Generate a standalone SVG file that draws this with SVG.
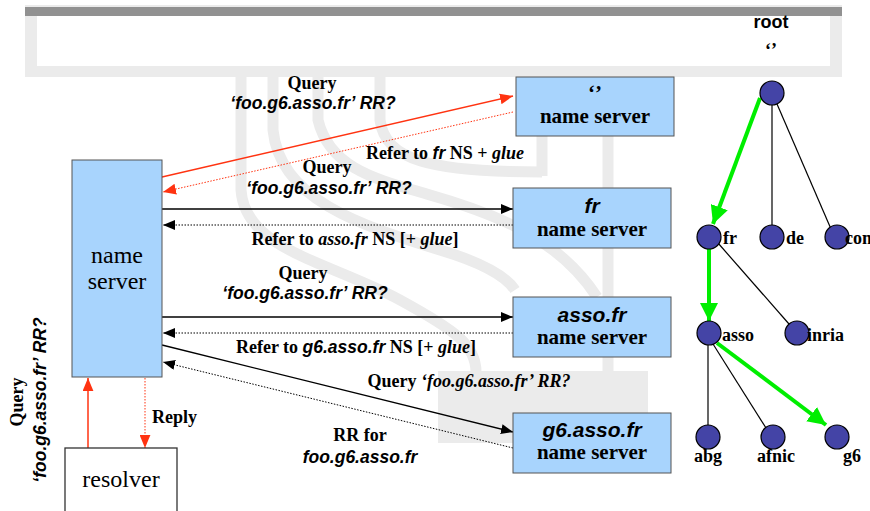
<svg xmlns="http://www.w3.org/2000/svg" width="870" height="511" viewBox="0 0 870 511">
<style>
.wm{fill:none;stroke:#ebebeb;stroke-width:11}
.box{fill:#a8d4fd;stroke:#555;stroke-width:1}
.sb{font-family:"Liberation Serif",serif;font-weight:bold}
.sbi{font-family:"Liberation Serif",serif;font-weight:bold;font-style:italic}
.ab{font-family:"Liberation Sans",sans-serif;font-weight:bold}
.abi{font-family:"Liberation Sans",sans-serif;font-weight:bold;font-style:italic}
.sr{font-family:"Liberation Serif",serif}
.solid{stroke:#000;stroke-width:1.3;fill:none}
.dot{stroke:#000;stroke-width:1;stroke-dasharray:1.5 1.5;fill:none}
.rsolid{stroke:#ff3311;stroke-width:1.5;fill:none}
.rdot{stroke:#ff3311;stroke-width:1;stroke-dasharray:1.5 1.5;fill:none}
.tn{fill:#4444a6;stroke:#000;stroke-width:1.2}
.te{stroke:#000;stroke-width:1.2}
.ge{stroke:#00ee00;stroke-width:4;fill:none}
</style>
<defs>
<marker id="ab" viewBox="0 0 12 10" refX="12" refY="5" markerWidth="12" markerHeight="10" markerUnits="userSpaceOnUse" orient="auto"><path d="M0,0L12,5L0,10z" fill="#000"/></marker>
<marker id="ar" viewBox="0 0 12 10" refX="12" refY="5" markerWidth="13" markerHeight="11" markerUnits="userSpaceOnUse" orient="auto"><path d="M0,0L12,5L0,10z" fill="#ff3311"/></marker>
<marker id="ag" viewBox="0 0 12 12" refX="12" refY="6" markerWidth="18" markerHeight="18" markerUnits="userSpaceOnUse" orient="auto"><path d="M0,0L12,6L0,12z" fill="#00ee00"/></marker>
</defs>
<rect width="870" height="511" fill="#fff"/>
<g id="watermark">
<rect x="25" y="5" width="817" height="72" fill="#ebebeb"/>
<rect x="25" y="7" width="817" height="9" fill="#919191"/>
<rect x="37" y="16" width="793" height="50" fill="#fff"/>
<path class="wm" d="M241,77 L241,190 C245,250 330,262 400,300 C455,330 476,345 476,372"/>
<path class="wm" d="M273,77 L273,130 C280,200 360,225 440,250 C480,262 505,275 515,290"/>
<path class="wm" d="M318,77 L318,120 C330,170 380,180 430,195 C500,215 560,240 597,297"/>
<path class="wm" d="M380,77 L380,120 C385,160 430,172 542,172"/>
<path class="wm" d="M542,130 L542,176"/>
<path class="wm" d="M608,130 L608,372"/>
<rect x="438" y="371" width="210" height="72" fill="#ebebeb"/>
</g>
<g id="connectors">
<line class="rsolid" x1="162" y1="177" x2="513" y2="96" marker-end="url(#ar)"/>
<line class="rdot" x1="513" y1="112" x2="163" y2="192" marker-end="url(#ar)"/>
<line class="solid" x1="162" y1="209" x2="513" y2="209" marker-end="url(#ab)"/>
<line class="dot" x1="513" y1="225" x2="163" y2="225" marker-end="url(#ab)"/>
<line class="solid" x1="162" y1="317" x2="513" y2="317" marker-end="url(#ab)"/>
<line class="dot" x1="513" y1="333" x2="163" y2="333" marker-end="url(#ab)"/>
<line class="solid" x1="162" y1="345" x2="513" y2="432" marker-end="url(#ab)"/>
<line class="dot" x1="513" y1="448" x2="163" y2="362" marker-end="url(#ab)"/>
<line class="rsolid" x1="88" y1="448" x2="88" y2="378" marker-end="url(#ar)"/>
<line class="rdot" x1="145" y1="378" x2="145" y2="448" marker-end="url(#ar)"/>
<line class="ge" x1="760" y1="98" x2="713" y2="224" marker-end="url(#ag)"/>
<line class="te" x1="772" y1="105" x2="772" y2="225"/>
<line class="te" x1="777" y1="104" x2="831" y2="229"/>
<line class="ge" x1="709" y1="249" x2="709" y2="321" marker-end="url(#ag)"/>
<line class="te" x1="718" y1="243" x2="789" y2="324"/>
<line class="te" x1="708" y1="345" x2="708" y2="425"/>
<line class="te" x1="713" y1="344" x2="766" y2="428"/>
<line class="ge" x1="717" y1="343" x2="826" y2="425" marker-end="url(#ag)"/>
</g>
<g id="labels">
<text class="sb" font-size="18" x="312" y="89" text-anchor="middle">Query</text>
<text class="abi" font-size="17.5" x="313" y="109" text-anchor="middle">‘foo.g6.asso.fr’ RR?</text>
<text class="sb" font-size="18" x="445" y="159" text-anchor="middle">Refer to <tspan class="abi" font-size="17.5">fr</tspan> NS + <tspan class="sbi">glue</tspan></text>
<text class="sb" font-size="18" x="327" y="173" text-anchor="middle">Query</text>
<text class="abi" font-size="17.5" x="329" y="194" text-anchor="middle">‘foo.g6.asso.fr’ RR?</text>
<text class="sb" font-size="18" x="355" y="245" text-anchor="middle">Refer to <tspan class="sbi">asso.fr</tspan> NS [+ <tspan class="sbi">glue</tspan>]</text>
<text class="sb" font-size="18" x="303" y="279" text-anchor="middle">Query</text>
<text class="abi" font-size="17.5" x="305" y="299" text-anchor="middle">‘foo.g6.asso.fr’ RR?</text>
<text class="sb" font-size="18" x="356" y="353" text-anchor="middle">Refer to <tspan class="abi" font-size="17.5">g6.asso.fr</tspan> NS [+ <tspan class="sbi">glue</tspan>]</text>
<text class="sb" font-size="18" x="469" y="387" text-anchor="middle">Query <tspan class="sbi">‘foo.g6.asso.fr’ RR?</tspan></text>
<text class="sb" font-size="18" x="360" y="441" text-anchor="middle">RR for</text>
<text class="abi" font-size="17.5" x="360" y="463" text-anchor="middle">foo.g6.asso.fr</text>
<text class="sb" font-size="18" x="152" y="423">Reply</text>
<text class="sb" font-size="18" x="23" y="402" text-anchor="middle" transform="rotate(-90 23 402)">Query</text>
<text class="abi" font-size="17.5" x="46" y="400" text-anchor="middle" transform="rotate(-90 46 400)">‘foo.g6.asso.fr’ RR?</text>
</g>
<g id="ns-local">
<rect class="box" x="72" y="160" width="90" height="217"/>
<text class="sr" font-size="24" x="117" y="263" text-anchor="middle">name</text>
<text class="sr" font-size="24" x="117" y="289" text-anchor="middle">server</text>
</g>
<g id="resolver">
<rect x="65" y="448" width="112" height="70" fill="#fff" stroke="#333" stroke-width="1.3"/>
<text class="sr" font-size="24" x="121" y="487" text-anchor="middle">resolver</text>
</g>
<g id="ns-root">
<rect class="box" x="516" y="77" width="158" height="59"/>
<text class="sb" font-size="21" x="595" y="100" text-anchor="middle">‘’</text>
<text class="sb" font-size="21" x="595" y="123" text-anchor="middle">name server</text>
</g>
<g id="ns-fr">
<rect class="box" x="513" y="188" width="158" height="60"/>
<text class="abi" font-size="21" x="592" y="213" text-anchor="middle">fr</text>
<text class="sb" font-size="21" x="592" y="236" text-anchor="middle">name server</text>
</g>
<g id="ns-asso">
<rect class="box" x="513" y="297" width="158" height="60"/>
<text class="abi" font-size="21" x="592" y="322" text-anchor="middle">asso.fr</text>
<text class="sb" font-size="21" x="592" y="344" text-anchor="middle">name server</text>
</g>
<g id="ns-g6">
<rect class="box" x="513" y="413" width="158" height="60"/>
<text class="abi" font-size="21" x="592" y="437" text-anchor="middle">g6.asso.fr</text>
<text class="sb" font-size="21" x="592" y="459" text-anchor="middle">name server</text>
</g>
<g id="tree-root">
<text class="ab" font-size="18" x="771" y="28" text-anchor="middle">root</text>
<text class="sb" font-size="18" x="771" y="56" text-anchor="middle">‘’</text>
<circle class="tn" cx="772" cy="93" r="12"/>
</g>
<g id="tree-fr"><circle class="tn" cx="709" cy="237" r="12"/><text class="sb" font-size="18" x="723" y="244">fr</text></g>
<g id="tree-de"><circle class="tn" cx="772" cy="237" r="12"/><text class="sb" font-size="18" x="786" y="244">de</text></g>
<g id="tree-com"><circle class="tn" cx="837" cy="237" r="12"/><text class="sb" font-size="18" x="845" y="244">com</text></g>
<g id="tree-asso"><circle class="tn" cx="709" cy="333" r="12"/><text class="sb" font-size="18" x="722" y="341">asso</text></g>
<g id="tree-inria"><circle class="tn" cx="797" cy="333" r="12"/><text class="sb" font-size="18" x="807" y="341">inria</text></g>
<g id="tree-abg"><circle class="tn" cx="708" cy="437" r="12"/><text class="sb" font-size="18" x="708" y="462" text-anchor="middle">abg</text></g>
<g id="tree-afnic"><circle class="tn" cx="773" cy="437" r="12"/><text class="sb" font-size="18" x="776" y="462" text-anchor="middle">afnic</text></g>
<g id="tree-g6"><circle class="tn" cx="837" cy="437" r="12"/><text class="sb" font-size="18" x="852" y="462" text-anchor="middle">g6</text></g>
</svg>
